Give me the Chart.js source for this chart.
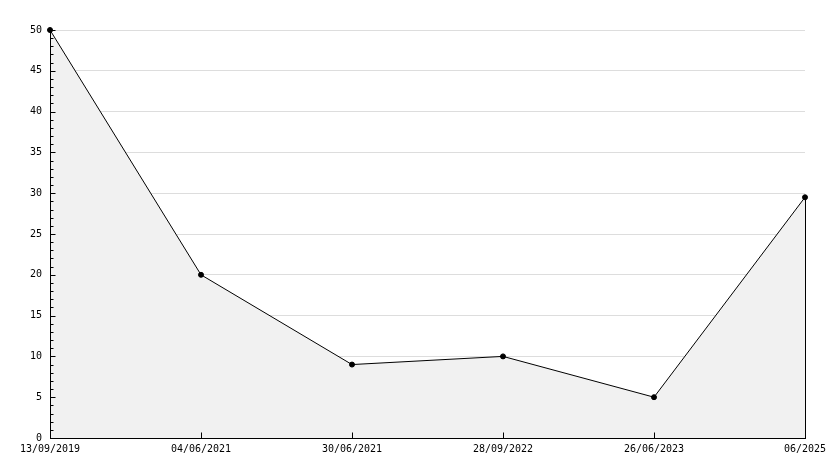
<!DOCTYPE html>
<html>
<head>
<meta charset="utf-8">
<script src="https://cdn.jsdelivr.net/npm/chart.js@4/dist/chart.umd.min.js"></script>
<style>
html,body{margin:0;padding:0;background:#fff;}
canvas{display:block;}
</style>
</head>
<body>
<canvas id="c" width="834" height="468"></canvas>
<script>
const categories = ["13/09/2019", "04/06/2021", "30/06/2021", "28/09/2022", "26/06/2023", "06/2025"];
const values = [50, 20, 9, 10, 5, 29.5];
const yMin = 0;
const yMax = 50;
const yMajorStep = 5;
const yMinorStep = 1;

const FONT = {family: "'DejaVu Sans Mono', monospace", size: 10};

const tickPlugin = {
  id: 'ticksInside',
  afterDatasetsDraw(chart) {
    const {ctx, scales: {x, y}} = chart;
    ctx.save();
    ctx.strokeStyle = '#000';
    ctx.lineWidth = 1;
    ctx.beginPath();
    const ax = Math.round(x.left) + 0.5;
    const ay = Math.round(y.bottom) + 0.5;
    // axis lines
    ctx.moveTo(ax, Math.round(y.top));
    ctx.lineTo(ax, ay);
    ctx.lineTo(Math.round(x.right) + 1, ay);
    // y minor/major ticks, pointing inward
    for (let v = yMin; v <= yMax; v += yMinorStep) {
      const py = Math.round(y.getPixelForValue(v)) + 0.5;
      const len = (v % yMajorStep === 0) ? 5 : 3;
      ctx.moveTo(ax, py);
      ctx.lineTo(ax + len, py);
    }
    // x ticks, pointing inward
    for (let i = 1; i < categories.length; i++) {
      const px = Math.round(x.getPixelForTick(i)) + 0.5;
      ctx.moveTo(px, ay);
      ctx.lineTo(px, ay - 6);
    }
    // right edge of the filled area
    const lastX = Math.round(x.getPixelForValue(values.length - 1)) + 0.5;
    ctx.moveTo(lastX, y.getPixelForValue(values[values.length - 1]));
    ctx.lineTo(lastX, ay);
    ctx.stroke();
    ctx.restore();
  }
};

new Chart(document.getElementById('c'), {
  type: 'line',
  data: {
    labels: categories,
    datasets: [{
      data: values,
      borderColor: '#000',
      borderWidth: 1,
      backgroundColor: '#f1f1f1',
      fill: 'origin',
      tension: 0,
      pointStyle: 'circle',
      pointRadius: 2.5,
      pointBackgroundColor: '#000',
      pointBorderColor: '#000',
      pointBorderWidth: 1,
      clip: false
    }]
  },
  options: {
    responsive: false,
    animation: false,
    devicePixelRatio: 1,
    layout: {padding: {top: 30, right: 29, left: 0, bottom: 0}},
    plugins: {legend: {display: false}, tooltip: {enabled: false}},
    scales: {
      x: {
        type: 'category',
        offset: false,
        grid: {display: false, drawTicks: false},
        border: {display: true, color: '#000', width: 1},
        ticks: {
          autoSkip: false, maxRotation: 0, minRotation: 0,
          color: '#000', font: FONT, padding: 5
        },
        afterFit(scale) { scale.height = 30; }
      },
      y: {
        min: yMin, max: yMax,
        grid: {
          drawTicks: false,
          color: (c) => (c.tick && c.tick.value === 0) ? 'rgba(0,0,0,0)' : '#dddddd',
          lineWidth: 1
        },
        border: {display: true, color: '#000', width: 1},
        ticks: {stepSize: yMajorStep, color: '#000', font: FONT, padding: 8},
        afterFit(scale) { scale.width = 50; }
      }
    }
  },
  plugins: [tickPlugin]
});
</script>
</body>
</html>
